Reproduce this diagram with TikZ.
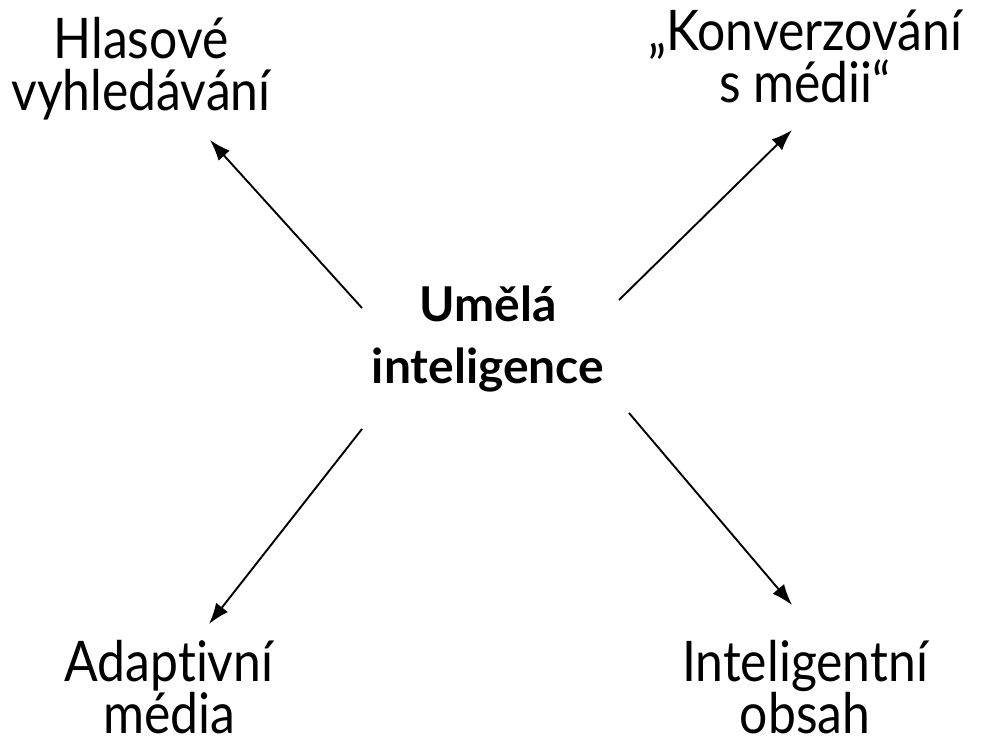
\documentclass[tikz,border=0pt]{standalone}
\usepackage{fontspec}
\setmainfont{Lato}[Ligatures=NoCommon,FakeStretch=0.89]
\newfontfamily\ctrfont{Lato}[Ligatures=NoCommon]
\usetikzlibrary{arrows.meta}
\begin{document}
\begin{tikzpicture}[x=1pt,y=-1pt,
  lbl/.style={align=center,inner sep=0pt,font=\fontsize{56}{52}\selectfont},
  ctr/.style={align=center,inner sep=0pt,font=\ctrfont\fontsize{48}{62}\selectfont\bfseries},
  arr/.style={line width=1.9pt,-{Latex[length=21pt,width=15pt]}}]
\fill[white] (0,0) rectangle (981,747);
\useasboundingbox (0,0) rectangle (981,747);
\node[ctr] (ai) at (488,339) {Umělá\\inteligence};
\node[lbl] (hv) at (141,69) {Hlasové\\vyhledávání};
\node[lbl] (km) at (805,56) {„Konverzování\\s médii“};
\node[lbl] (am) at (169,687) {Adaptivní\\média};
\node[lbl] (io) at (805,687) {Inteligentní\\obsah};
\coordinate (a1s) at (362,308); \coordinate (a1e) at (210,140);
\coordinate (a2s) at (619,300); \coordinate (a2e) at (792,130);
\coordinate (a3s) at (362,429); \coordinate (a3e) at (209,624);
\coordinate (a4s) at (629,413); \coordinate (a4e) at (792,605);
\draw[arr] (a1s) -- (a1e);
\draw[arr] (a2s) -- (a2e);
\draw[arr] (a3s) -- (a3e);
\draw[arr] (a4s) -- (a4e);
\end{tikzpicture}
\end{document}
